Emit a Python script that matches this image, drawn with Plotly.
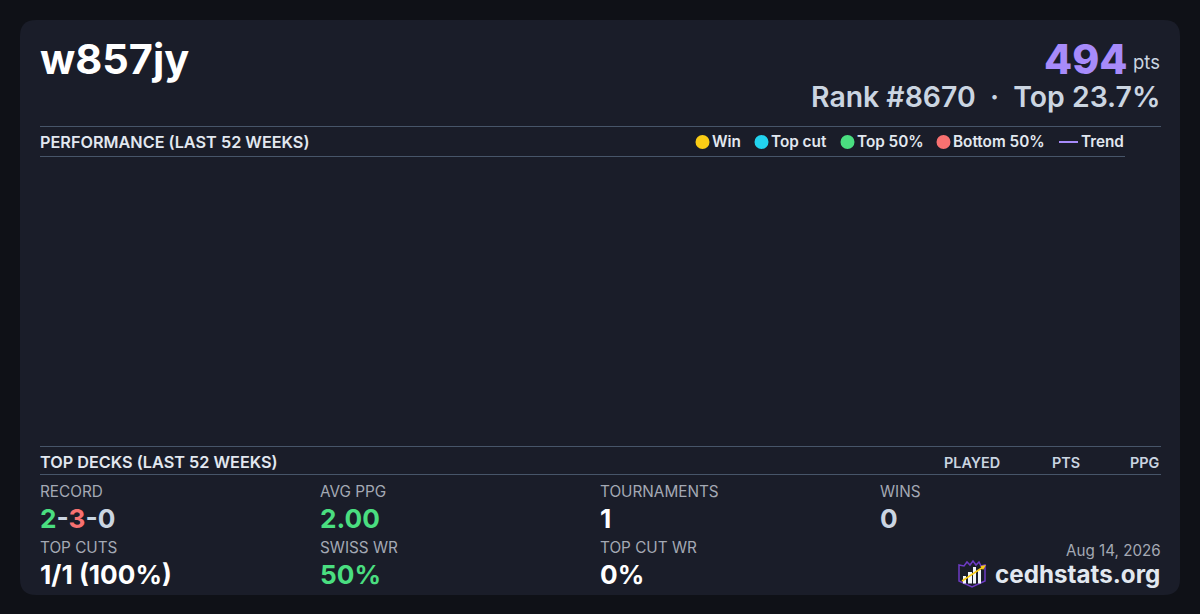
import plotly.graph_objects as go

# card text
player = 'w857jy'
points = '494'
rank_line = 'Rank #8670  ·  Top 23.7%'
date_text = 'Aug 14, 2026'
site = 'cedhstats.org'
section_perf = 'PERFORMANCE (LAST 52 WEEKS)'
section_decks = 'TOP DECKS (LAST 52 WEEKS)'
deck_cols = ['PLAYED', 'PTS', 'PPG']

# legend
legend_names = ['Win', 'Top cut', 'Top 50%', 'Bottom 50%']
legend_colors = ['#facc15', '#22d3ee', '#4ade80', '#f87171']

GREEN = '#4ade80'
RED = '#f87171'
GREY = '#cbd5e1'
WHITE = '#ffffff'
PURPLE = '#a78bfa'

# stats
stat_top = ['RECORD', 'AVG PPG', 'TOURNAMENTS', 'WINS']
stat_top_val = [f'<span style="color:{GREEN}">2</span>-<span style="color:{RED}">3</span>-0', '2.00', '1', '0']
stat_top_col = [GREY, GREEN, WHITE, GREY]
stat_bot = ['TOP CUTS', 'SWISS WR', 'TOP CUT WR']
stat_bot_val = ['1/1 (100%)', '50%', '0%']
stat_bot_col = [WHITE, GREEN, WHITE]
stat_x = [39, 319, 599, 879]

FONT = 'Inter'
fig = go.Figure()


def txt(x, y, s, size, color, weight=400, anchor='left'):
    fig.add_annotation(x=x, y=y, text=s, xref='x', yref='y', showarrow=False, xanchor=anchor, yanchor='middle',
                       align=anchor, borderpad=0, font=dict(family=FONT, size=size, color=color, weight=weight))


def rule(x0, x1, y):
    fig.add_shape(type='line', x0=x0, x1=x1, y0=y, y1=y, line=dict(color='#475569', width=1), layer='below')


# card
fig.add_shape(type='path', layer='below', line_width=0, fillcolor='#1a1d29',
              path='M 36 20 L 1164 20 Q 1180 20 1180 36 L 1180 579 Q 1180 595 1164 595 L 36 595 Q 20 595 20 579 L 20 36 Q 20 20 36 20 Z')

rule(40, 1161, 126.5)
rule(40, 1125, 156.5)
rule(40, 1161, 446.5)
rule(40, 1161, 474.5)

txt(39, 59, player, 41.5, WHITE, 700)
txt(1129, 59, points, 41, PURPLE, 800, 'right')
txt(1161, 62, 'pts', 18.5, GREY, 400, 'right')
txt(1161, 96, rank_line, 28.4, GREY, 600, 'right')

txt(39, 142, section_perf, 16.25, '#e2e8f0', 600)
txt(39, 462, section_decks, 16.25, '#e2e8f0', 600)

for name, col, cx, tx in zip(legend_names, legend_colors, [702.5, 761.5, 847.5, 943.5], [711, 770, 856, 952]):
    fig.add_shape(type='circle', x0=cx - 7, x1=cx + 7, y0=135, y1=149, fillcolor=col, line_width=0)
    txt(tx, 141.5, name, 15.3, '#e2e8f0', 600)
fig.add_shape(type='line', x0=1059, x1=1078, y0=142, y1=142, line=dict(color=PURPLE, width=2))
txt(1080, 141.5, 'Trend', 15.3, '#e2e8f0', 600)

for name, x in zip(deck_cols, [1001, 1081, 1161]):
    txt(x, 462, name, 14.4, GREY, 600, 'right')

for lab, val, col, x in zip(stat_top, stat_top_val, stat_top_col, stat_x):
    txt(x, 491, lab, 15.3, '#a4a9b4', 400)
    txt(x, 518, val, 26.2, col, 700)
for lab, val, col, x in zip(stat_bot, stat_bot_val, stat_bot_col, stat_x):
    txt(x, 547, lab, 15.3, '#a4a9b4', 400)
    txt(x, 574, val, 26.2, col, 700)

txt(1161.5, 550, date_text, 15.2, '#a4a9b4', 400, 'right')
txt(1161, 574, site, 24.2, '#e2e8f0', 700, 'right')

# logo
fig.add_shape(type='path', line=dict(color='#6d3bc4', width=1.5), fillcolor='rgba(0,0,0,0)',
              path='M 959 565 L 964 566 L 967 562 L 970 565 L 973 561 L 976 565 L 979 562 L 981 566 L 985 565 L 985 581 L 972 587 L 959 581 Z')
for x0, x1, y0 in [(963, 966, 576), (968, 972, 572), (973, 976, 567), (978, 981, 570)]:
    fig.add_shape(type='rect', x0=x0, x1=x1, y0=y0, y1=583.5, fillcolor='#f1f5f9', line_width=0)
fig.add_shape(type='line', x0=962, y0=581, x1=984, y1=566.5, line=dict(color='#facc15', width=1.5))
fig.add_shape(type='path', fillcolor='#facc15', line_width=0, path='M 986 565 L 980.5 566 L 983 570 Z')

fig.update_xaxes(visible=False, range=[0, 1200], fixedrange=True)
fig.update_yaxes(visible=False, range=[614, 0], fixedrange=True)
fig.update_layout(width=1200, height=614, margin=dict(l=0, r=0, t=0, b=0), showlegend=False,
                  paper_bgcolor='#0f1117', plot_bgcolor='#0f1117')

fig.write_html("out.html", post_script="document.body.style.margin='0';", config={'displayModeBar': False})
